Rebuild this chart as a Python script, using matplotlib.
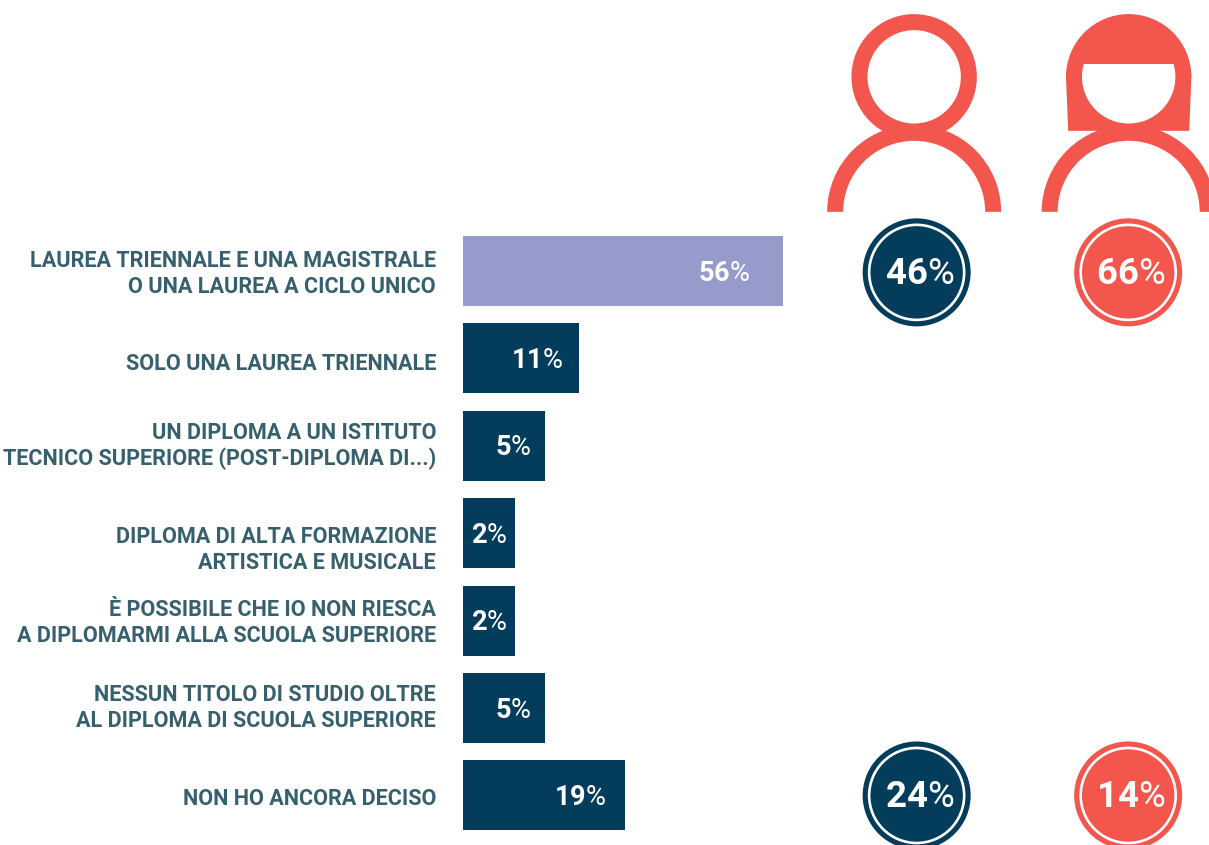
#horizontal bars with two person icons and percentage badges
import matplotlib
matplotlib.use('Agg')
import matplotlib.pyplot as plt
from matplotlib.patches import Circle, Wedge, Rectangle, Polygon
import numpy as np

categories = [
    "LAUREA TRIENNALE E UNA MAGISTRALE\nO UNA LAUREA A CICLO UNICO",
    "SOLO UNA LAUREA TRIENNALE",
    "UN DIPLOMA A UN ISTITUTO\nTECNICO SUPERIORE (POST-DIPLOMA DI...)",
    "DIPLOMA DI ALTA FORMAZIONE\nARTISTICA E MUSICALE",
    "È POSSIBILE CHE IO NON RIESCA\nA DIPLOMARMI ALLA SCUOLA SUPERIORE",
    "NESSUN TITOLO DI STUDIO OLTRE\nAL DIPLOMA DI SCUOLA SUPERIORE",
    "NON HO ANCORA DECISO",
]
values = [56, 11, 5, 2, 2, 5, 19]
male_badges = [46, 24]
female_badges = [66, 14]

NAVY = '#033d5b'
CORAL = '#f3564d'
LAVENDER = '#969bcc'
LABEL = '#37606f'
W, H = 1209, 845
FONT = 'Roboto'

# bold digits and a thin percent sign in one text
plt.rcParams['mathtext.fontset'] = 'custom'
plt.rcParams['mathtext.rm'] = FONT
plt.rcParams['mathtext.bf'] = FONT + ':bold'

# the bars in the picture are not proportional, so the x scale is not linear either
scale_val = [0, 2, 5, 11, 19, 56, 70]
scale_px = [0, 52, 82, 116, 162, 320, 400]

def forward(v):
    return np.interp(v, scale_val, scale_px)

def inverse(p):
    return np.interp(p, scale_px, scale_val)

fig = plt.figure(figsize=((W + 0.2) / 100, (H + 0.2) / 100), dpi=100, facecolor='white')

# overlay in pixel units for icons, badges and all text
bg = fig.add_axes([0, 0, 1, 1])
bg.set_xlim(0, W)
bg.set_ylim(H, 0)
bg.axis('off')
bg.set_zorder(2)

row_h = 87.4
top = 271 - row_h / 2
ax = fig.add_axes([463 / W, 1 - (top + 7 * row_h) / H, 400 / W, 7 * row_h / H])
ax.set_xscale('function', functions=(forward, inverse))
ax.set_xlim(0, 70)
ax.set_ylim(6.5, -0.5)
ax.axis('off')

y = np.arange(len(values))
colors = [LAVENDER] + [NAVY] * (len(values) - 1)
ax.barh(y, values, height=70 / row_h, color=colors, linewidth=0)

def pct_text(x, base, val, size, align='right'):
    bg.text(x, base, rf"$\mathbf{{{val}}}\mathrm{{\%}}$", ha=align, va='baseline', color='white',
            fontsize=size, family=FONT, zorder=5)

value_pad = [33, 16, 14, 8, 8, 14, 19]
for i, v in enumerate(values):
    px, py = bg.transData.inverted().transform(ax.transData.transform((v, i)))
    pct_text(px - value_pad[i], py + 9.5, v, 19.5)

label_y = [274, 364, 446, 550, 623, 708, 799]
for c, ly in zip(categories, label_y):
    bg.text(436, ly, c, ha='right', va='center', color=LABEL, fontsize=15.6,
            fontweight='bold', family=FONT, linespacing=1.2, multialignment='right')

def draw_body(cx):
    bg.add_patch(Wedge((cx, 212), 87, 180, 360, width=16, color=CORAL, lw=0))

def draw_man(cx):
    bg.add_patch(Circle((cx, 77), 54.7, fill=False, ec=CORAL, lw=16 * 0.72))
    draw_body(cx)

def draw_woman(cx):
    # hair block, then the face cut out under the fringe
    bg.add_patch(Wedge((cx, 77), 62.7, 180, 360, color=CORAL, lw=0))
    bg.add_patch(Polygon([(cx - 62, 70), (cx - 62.7, 77), (cx - 60.5, 131), (cx + 60.5, 131),
                          (cx + 62.7, 77), (cx + 62, 70)], color=CORAL, lw=0))
    face = Circle((cx, 77), 46.7, color='white', lw=0)
    bg.add_patch(face)
    face.set_clip_path(Rectangle((cx - 60, 64), 120, 70, transform=bg.transData))
    draw_body(cx)

draw_man(914)
draw_woman(1128.5)

def draw_badge(cx, cy, val, color):
    bg.add_patch(Circle((cx, cy), 54, color=color, lw=0))
    bg.add_patch(Circle((cx, cy), 47.5, fill=False, ec='white', lw=1.9))
    pct_text(cx + 2.5, cy + 11.5, val, 26.4, align='center')

for cx, vals, col in [(916.5, male_badges, NAVY), (1128, female_badges, CORAL)]:
    for cy, v in zip([272.5, 795.5], vals):
        draw_badge(cx, cy, v, col)

fig.savefig('out.png', dpi=100, facecolor='white')
